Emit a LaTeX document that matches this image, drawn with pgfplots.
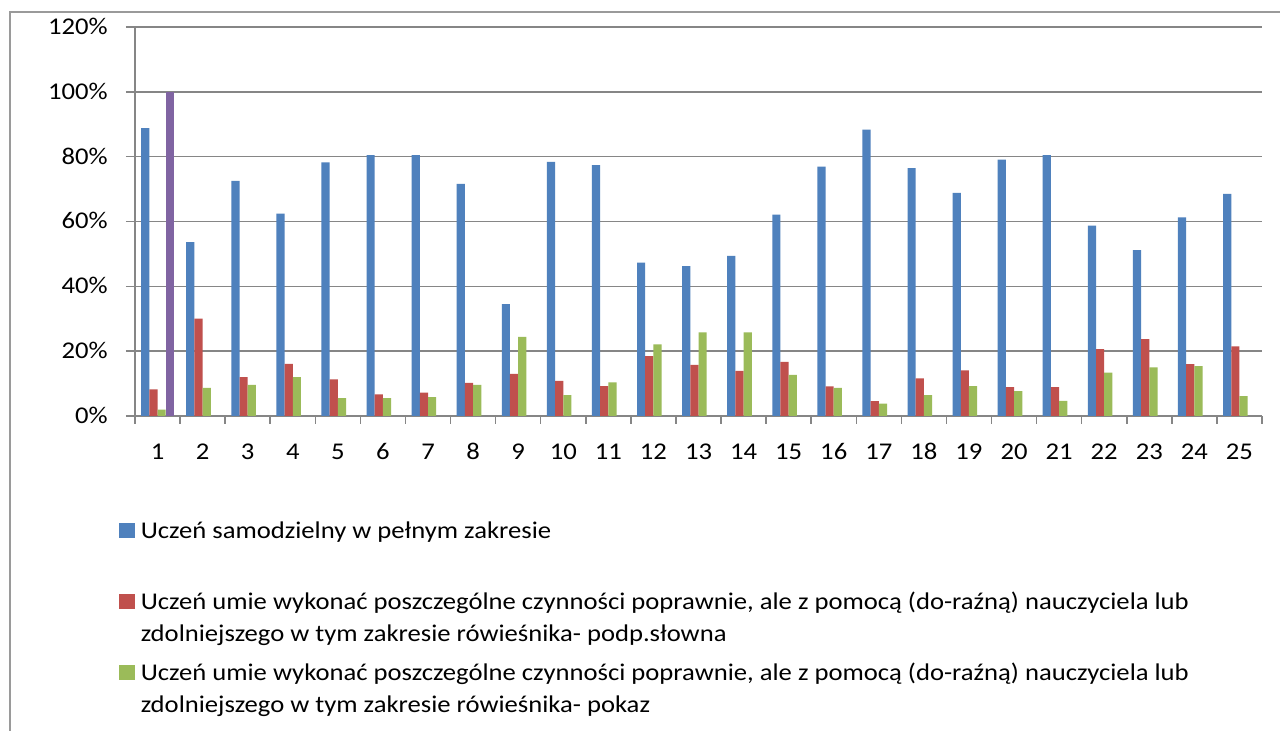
\documentclass[border=0pt]{standalone}
\usepackage{pgfplots}
\pgfplotsset{compat=1.18}
\usepackage{fontspec}
\setmainfont{Carlito}[FakeStretch=1.11]
\definecolor{cblue}{HTML}{4F81BD}
\definecolor{cred}{HTML}{C0504D}
\definecolor{cgreen}{HTML}{9BBB59}
\definecolor{cpurple}{HTML}{8064A2}
\definecolor{axgray}{HTML}{868686}
\definecolor{framegray}{HTML}{9A9A9A}
\newcommand{\legtext}[1]{\parbox[t]{540pt}{\raggedright\strut #1}}
\begin{document}
\fontsize{12}{16}\selectfont
\begin{tikzpicture}
\useasboundingbox (0,0) rectangle (640pt,365.5pt);
\fill[white] (0,0) rectangle (640pt,365.5pt);
\draw[framegray, line width=0.6pt] (5pt,0) -- (5pt,359.5pt) -- (640pt,359.5pt);
\begin{axis}[
  at={(67.5pt,157.5pt)}, anchor=south west,
  scale only axis, width=563.5pt, height=194.5pt,
  ybar=0pt, bar width=4.1pt,
  xmin=0.5, xmax=25.5, ymin=0, ymax=120,
  axis x line*=bottom, axis y line*=left,
  axis line style={-, draw=axgray, line width=0.75pt},
  xtick={1,2,3,4,5,6,7,8,9,10,11,12,13,14,15,16,17,18,19,20,21,22,23,24,25},
  xticklabels={1,2,3,4,5,6,7,8,9,10,11,12,13,14,15,16,17,18,19,20,21,22,23,24,25},
  major x tick style={draw=none},
  minor xtick={0.5,1.5,...,25.5},
  ytick={0,20,40,60,80,100,120},
  yticklabels={0\%,20\%,40\%,60\%,80\%,100\%,120\%},
  tick align=outside,
  major tick length=4.5pt, minor tick length=4pt,
  every tick/.style={axgray, line width=0.75pt},
  minor x tick style={axgray, line width=0.75pt},
  ymajorgrids, grid style={axgray, line width=0.75pt},
  tick label style={font=\fontsize{12}{14}\selectfont, inner sep=0pt},
  xticklabel style={anchor=base, yshift=-17.25pt},
  yticklabel style={anchor=base east, xshift=-9pt, yshift=-3.75pt},
  legend image code/.code={\fill[#1] (0pt,0pt) rectangle (8pt,7.5pt);},
  legend style={at={(0,0)}, anchor=north west, xshift=-8pt, yshift=-47.65pt,
    draw=none, fill=none, inner sep=0pt, row sep=18.5pt, column sep=0.7pt,
    font=\fontsize{12}{16}\selectfont,
    cells={anchor=base west, inner sep=0pt}},
]
\addplot[fill=cblue, draw=none] coordinates {
(1,88.8) (2,53.6) (3,72.5) (4,62.4) (5,78.2) (6,80.5) (7,80.5) (8,71.6) (9,34.5) (10,78.4)
(11,77.4) (12,47.3) (13,46.2) (14,49.4) (15,62.1) (16,76.9) (17,88.3) (18,76.5) (19,68.8) (20,79.1)
(21,80.5) (22,58.7) (23,51.2) (24,61.3) (25,68.5)};
\addlegendentry{\legtext{Uczeń samodzielny w pełnym zakresie}}
\addplot[fill=cred, draw=none] coordinates {
(1,8.2) (2,30.0) (3,12.0) (4,16.1) (5,11.3) (6,6.7) (7,7.2) (8,10.2) (9,13.0) (10,10.8)
(11,9.2) (12,18.5) (13,15.8) (14,13.9) (15,16.7) (16,9.1) (17,4.6) (18,11.6) (19,14.1) (20,8.9)
(21,8.9) (22,20.6) (23,23.7) (24,16.0) (25,21.5)};
\addlegendentry{\legtext{Uczeń umie wykonać poszczególne czynności poprawnie, ale z pomocą (do-raźną) nauczyciela lub\\zdolniejszego w tym zakresie rówieśnika- podp.słowna}}
\addplot[fill=cgreen, draw=none] coordinates {
(1,2.0) (2,8.7) (3,9.6) (4,12.0) (5,5.5) (6,5.5) (7,5.8) (8,9.6) (9,24.4) (10,6.4)
(11,10.4) (12,22.1) (13,25.8) (14,25.8) (15,12.7) (16,8.7) (17,3.8) (18,6.4) (19,9.2) (20,7.7)
(21,4.7) (22,13.4) (23,15.0) (24,15.4) (25,6.1)};
\addlegendentry{\legtext{Uczeń umie wykonać poszczególne czynności poprawnie, ale z pomocą (do-raźną) nauczyciela lub\\zdolniejszego w tym zakresie rówieśnika- pokaz}}
\addplot[fill=cpurple, draw=none] coordinates {(1,100)};
\end{axis}
\end{tikzpicture}
\end{document}
